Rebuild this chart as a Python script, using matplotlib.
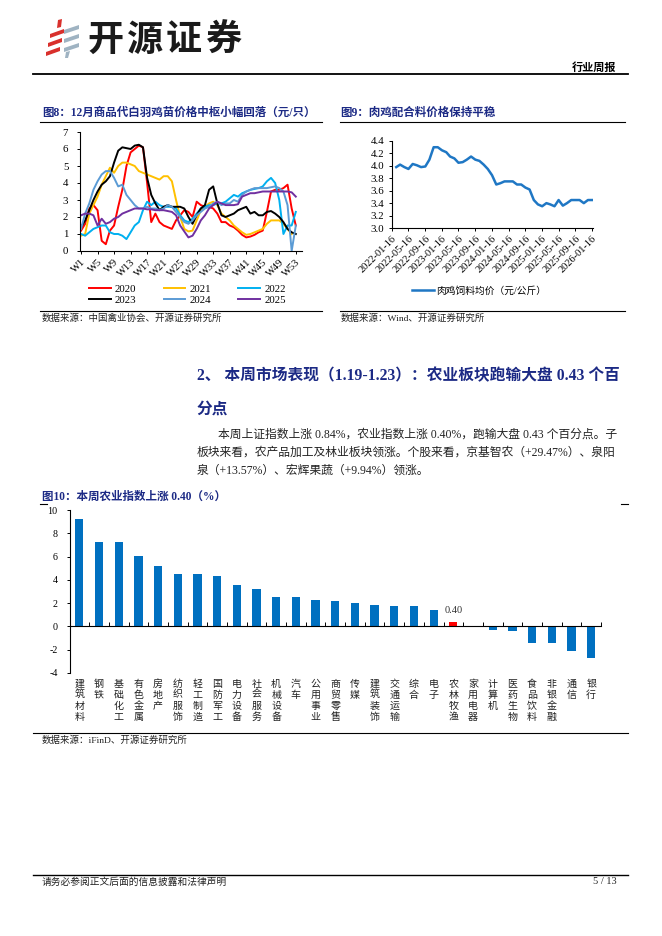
import numpy as np
import pandas as pd
import matplotlib
matplotlib.use('Agg')
import matplotlib.pyplot as plt
from matplotlib.patches import Polygon
from matplotlib.lines import Line2D
import matplotlib.transforms as mtransforms

W, H = 662, 936
plt.rcParams['font.family'] = ['Liberation Serif', 'Noto Sans CJK SC', 'DejaVu Sans']
plt.rcParams['axes.unicode_minus'] = False

# ---------------- data: figure 8 (white-feather chick price, yuan/chick) ----------------
week_tick_labels = ["W1", "W5", "W9", "W13", "W17", "W21", "W25", "W29",
                    "W33", "W37", "W41", "W45", "W49", "W53"]
years = ["2020", "2021", "2022", "2023", "2024", "2025"]
nan = np.nan
chick_2020 = [1.2, 1.6, 2.5, 2.7, 2.4, 0.6, 0.4, 1.2, 1.5, 2.6, 3.6, 5.0, 5.8, 6.0, 6.2, 6.1, 4.0,
              1.7, 2.2, 1.7, 1.5, 1.4, 1.3, 1.8, 2.1, 2.4, 2.3, 2.0, 2.9, 2.7, 2.6, 2.6, 2.5, 2.2,
              1.7, 1.7, 1.5, 1.4, 1.2, 0.95, 0.8, 0.85, 0.95, 1.1, 1.2, 2.3, 3.5, 3.6, 3.6, 3.7,
              3.9, 2.5, 1.5]
chick_2021 = [0.9, 1.0, 2.2, 2.7, 3.2, 3.9, 4.4, 4.9, 4.6, 5.0, 5.2, 5.2, 5.1, 5.0, 4.7, 4.6, 4.5,
              4.4, 4.3, 4.2, 4.4, 4.4, 4.1, 3.0, 2.0, 1.3, 1.15, 1.2, 1.8, 2.4, 2.6, 2.8, 2.9, 2.7,
              2.2, 2.0, 1.8, 1.5, 1.3, 1.1, 0.95, 1.0, 1.1, 1.2, 1.3, 1.6, 1.8, 1.8, 1.8, 1.6,
              1.3, 1.0, nan]
chick_2022 = [1.0, 0.9, 1.1, 1.3, 1.4, 1.5, 1.5, 1.1, 1.0, 1.0, 0.9, 0.7, 1.1, 1.5, 1.7, 2.4, 2.9,
              2.7, 2.9, 2.7, 2.6, 2.6, 2.6, 2.5, 2.1, 1.8, 1.7, 1.9, 2.2, 2.5, 2.6, 2.7, 2.7, 2.8,
              2.8, 2.9, 3.1, 3.3, 3.2, 3.4, 3.5, 3.6, 3.65, 3.7, 3.8, 4.1, 4.3, 4.0, 3.0, 1.0,
              1.5, 1.5, 2.3]
chick_2023 = [1.4, 1.8, 2.4, 3.0, 3.5, 3.9, 4.1, 4.4, 5.2, 5.9, 6.1, 6.05, 6.0, 6.2, 6.25, 6.1, 4.3,
              3.3, 2.8, 2.4, 2.6, 2.7, 2.6, 2.6, 2.6, 2.5, 2.0, 1.6, 2.1, 2.5, 2.7, 3.6, 3.8, 2.8,
              2.1, 2.0, 2.1, 2.2, 2.4, 2.5, 2.6, 2.2, 2.3, 2.1, 2.1, 2.3, 2.35, 2.2, 2.0, 1.7,
              1.3, 1.1, 1.0]
chick_2024 = [1.3, 2.2, 2.8, 3.6, 4.1, 4.5, 4.7, 4.7, 4.3, 3.8, 3.9, 3.3, 3.0, 2.7, 2.5, 2.5, 2.6,
              2.5, 2.5, 2.4, 2.5, 2.7, 2.6, 2.3, 2.0, 1.7, 1.6, 1.8, 2.1, 2.3, 2.5, 2.6, 2.8, 2.9,
              2.7, 2.8, 2.8, 3.0, 2.9, 3.3, 3.5, 3.6, 3.7, 3.7, 3.7, 3.7, 3.75, 3.8, 3.7, 3.5,
              2.7, 0.0, 1.5]
chick_2025 = [2.1, 2.2, 2.2, 2.1, 1.5, 1.9, 1.6, 1.7, 1.9, 2.0, 2.2, 2.3, 2.4, 2.5, 2.5, 2.5, 2.45,
              2.45, 2.4, 2.4, 2.4, 2.35, 2.3, 2.1, 1.5, 1.15, 0.8, 0.9, 1.3, 1.8, 2.1, 2.5, 2.7,
              2.9, 2.8, 2.7, 2.7, 2.7, 2.75, 3.2, 3.3, 3.4, 3.4, 3.45, 3.5, 3.5, 3.5, 3.5, 3.5,
              3.5, 3.5, 3.45, 3.2]
chick_series = [chick_2020, chick_2021, chick_2022, chick_2023, chick_2024, chick_2025]
chick_colors = ["#FF0000", "#FFC000", "#00B0F0", "#000000", "#5B9BD5", "#7030A0"]

# ---------------- data: figure 9 (broiler feed price, yuan/kg) ----------------
feed_start_month = "2022-02-01"
feed_values = [3.98, 4.02, 3.98, 3.95, 4.03, 4.01, 3.98, 3.99, 4.10, 4.30, 4.30, 4.25, 4.22,
               4.15, 4.12, 4.05, 4.06, 4.10, 4.15, 4.10, 4.08, 4.02, 3.95, 3.85, 3.70, 3.72,
               3.75, 3.75, 3.75, 3.70, 3.70, 3.65, 3.62, 3.45, 3.38, 3.35, 3.40, 3.38, 3.35,
               3.45, 3.36, 3.40, 3.45, 3.45, 3.45, 3.40, 3.45, 3.45]
feed_tick_labels = ["2022-01-16", "2022-05-16", "2022-09-16", "2023-01-16", "2023-05-16",
                    "2023-09-16", "2024-01-16", "2024-05-16", "2024-09-16", "2025-01-16",
                    "2025-05-16", "2025-09-16", "2026-01-16"]
feed_label = "肉鸡饲料均价（元/公斤）"

# ---------------- data: figure 10 (sector weekly change, %) ----------------
sectors = ["建筑材料", "钢铁", "基础化工", "有色金属", "房地产", "纺织服饰", "轻工制造", "国防军工",
           "电力设备", "社会服务", "机械设备", "汽车", "公用事业", "商贸零售", "传媒", "建筑装饰",
           "交通运输", "综合", "电子", "农林牧渔", "家用电器", "计算机", "医药生物", "食品饮料",
           "非银金融", "通信", "银行"]
sector_changes = [9.2, 7.25, 7.25, 6.05, 5.2, 4.5, 4.5, 4.35, 3.55, 3.2, 2.5, 2.5, 2.25, 2.15,
                  2.0, 1.85, 1.75, 1.75, 1.4, 0.40, -0.02, -0.3, -0.4, -1.45, -1.45, -2.1, -2.7]
highlight_sector = "农林牧渔"

# ---------------- page setup ----------------
fig = plt.figure(figsize=(W / 100, H / 100), dpi=100)
fig.patch.set_facecolor("white")

def rect(x0, y0, x1, y1):
    return [x0 / W, 1 - y1 / H, (x1 - x0) / W, (y1 - y0) / H]

def fx(x):
    return x / W

def fy(y):
    return 1 - y / H

def hline(x0, x1, y, lw=0.8, color="black"):
    fig.add_artist(Line2D([fx(x0), fx(x1)], [fy(y), fy(y)], lw=lw, color=color,
                          transform=fig.transFigure))

NAVY = "#1C2A85"
TXT = "#222222"
SERIF_CJK = ["Liberation Serif", "Noto Sans CJK SC"]

# ---- logo ----
lax = fig.add_axes(rect(40, 18, 84, 60))
lax.set_xlim(40, 84)
lax.set_ylim(60, 18)
lax.axis("off")
red = "#D9302C"
grey = "#9FB3C2"
for (x, y) in [(46, 52), (48, 43), (50, 34)]:
    lax.add_patch(Polygon([(x, y), (x + 14, y - 5), (x + 14, y - 1), (x, y + 4)], closed=True,
                          color=red, lw=0))
lax.add_patch(Polygon([(58, 20), (62, 19), (61, 27), (57, 28)], closed=True, color=red, lw=0))
for (x, y) in [(64, 30), (64, 39), (64, 48)]:
    lax.add_patch(Polygon([(x, y), (x + 15, y - 5), (x + 15, y - 1), (x, y + 4)], closed=True,
                          color=grey, lw=0))
lax.add_patch(Polygon([(66, 52), (70, 51), (68, 58), (65, 58)], closed=True, color=grey, lw=0))

for i, ch in enumerate("开源证券"):
    fig.text(fx(106 + 39 * i), fy(40), ch, fontsize=26, fontweight="bold",
             family="Noto Sans CJK SC", ha="center", va="center", color="#1a1a1a")

fig.text(fx(616), fy(67), "行业周报", fontsize=8, fontweight="bold", family="Noto Sans CJK SC",
         ha="right", va="center", color="black")
hline(33, 628, 74, lw=1.3)

# ---- figure 8 ----
fig.text(fx(42), fy(113), "图8：12月商品代白羽鸡苗价格中枢小幅回落（元/只）", fontsize=8.3,
         fontweight="bold", family=SERIF_CJK, color=NAVY, ha="left", va="center")
hline(40, 322, 122, lw=0.8)

ax8 = fig.add_axes(rect(80, 132, 302, 251))
weeks = np.arange(1, len(chick_2020) + 1)
handles = []
for lab, vals, col in zip(years, chick_series, chick_colors):
    h, = ax8.plot(weeks, vals, color=col, lw=1.4, label=lab)
    handles.append(h)
ax8.set_xlim(0.75, 54.5)
ax8.set_ylim(0, 7)
ax8.set_yticks(range(0, 8))
tick_pos8 = [int(t[1:]) for t in week_tick_labels]
ax8.set_xticks(tick_pos8)
ax8.set_xticklabels(week_tick_labels, rotation=45, ha="right", va="top", rotation_mode="anchor",
                    fontsize=7.6)
ax8.tick_params(axis="y", labelsize=7.8, length=2.5, width=0.7, pad=6)
ax8.tick_params(axis="x", length=2.5, width=0.7, pad=2)
for s in ["top", "right"]:
    ax8.spines[s].set_visible(False)
for s in ["left", "bottom"]:
    ax8.spines[s].set_linewidth(0.8)
order = [0, 3, 1, 4, 2, 5]
ax8.legend([handles[i] for i in order], [years[i] for i in order], ncol=3, loc="upper left",
           bbox_to_anchor=(fx(89), fy(284)), bbox_transform=fig.transFigure, frameon=False,
           fontsize=7.8, handlelength=2.0, handletextpad=0.4, columnspacing=2.5,
           labelspacing=0.15, borderpad=0, borderaxespad=0)
hline(40, 322, 311, lw=0.8)
fig.text(fx(42), fy(318), "数据来源：中国禽业协会、开源证券研究所", fontsize=6.8,
         family=SERIF_CJK, color=TXT, ha="left", va="center")

# ---- figure 9 ----
fig.text(fx(340), fy(113), "图9：肉鸡配合料价格保持平稳", fontsize=8.3, fontweight="bold",
         family=SERIF_CJK, color=NAVY, ha="left", va="center")
hline(340, 625, 122, lw=0.8)

ax9 = fig.add_axes(rect(392, 141, 593, 228))
feed_dates = pd.date_range(feed_start_month, periods=len(feed_values), freq="MS") + pd.DateOffset(days=15)
ax9.plot(feed_dates, feed_values, color="#1F77C4", lw=1.8, label=feed_label)
feed_ticks = pd.to_datetime(feed_tick_labels)
ax9.set_xlim(feed_ticks[0], feed_ticks[-1] + pd.Timedelta(days=6))
ax9.set_ylim(3.0, 4.4)
ax9.set_yticks(np.arange(3.0, 4.41, 0.2))
ax9.set_yticklabels([f"{v:.1f}" for v in np.arange(3.0, 4.41, 0.2)])
ax9.set_xticks(feed_ticks)
ax9.set_xticklabels(feed_tick_labels, rotation=45, ha="right", va="top", rotation_mode="anchor",
                    fontsize=7.5)
ax9.tick_params(axis="y", labelsize=7.8, length=2.5, width=0.7, pad=3)
ax9.tick_params(axis="x", length=2.5, width=0.7, pad=2)
for s in ["top", "right"]:
    ax9.spines[s].set_visible(False)
for s in ["left", "bottom"]:
    ax9.spines[s].set_linewidth(0.8)
ax9.legend(loc="center left", bbox_to_anchor=(fx(412), fy(291)), bbox_transform=fig.transFigure,
           frameon=False, handlelength=2.3, handletextpad=0.2, borderpad=0,
           borderaxespad=0, prop={"family": SERIF_CJK, "size": 7.0})
hline(340, 625, 311, lw=0.8)
fig.text(fx(341), fy(318), "数据来源：Wind、开源证券研究所", fontsize=6.8, family=SERIF_CJK,
         color=TXT, ha="left", va="center")

# ---- section heading & paragraph ----
fig.text(fx(197), fy(376), "2、 本周市场表现（1.19-1.23）：农业板块跑输大盘 0.43 个百",
         fontsize=11.3, fontweight="bold", family=SERIF_CJK, color=NAVY, ha="left", va="center")
fig.text(fx(197), fy(410), "分点", fontsize=11.3, fontweight="bold", family=SERIF_CJK, color=NAVY,
         ha="left", va="center")
para = [
    (218, "本周上证指数上涨 0.84%，农业指数上涨 0.40%，跑输大盘 0.43 个百分点。子"),
    (197, "板块来看，农产品加工及林业板块领涨。个股来看，京基智农（+29.47%）、泉阳"),
    (197, "泉（+13.57%）、宏辉果蔬（+9.94%）领涨。"),
]
for i, (x0, line) in enumerate(para):
    fig.text(fx(x0), fy(435 + 18 * i), line, fontsize=8.5, family=SERIF_CJK, color=TXT,
             ha="left", va="center")

# ---- figure 10 ----
fig.text(fx(42), fy(497), "图10：本周农业指数上涨 0.40（%）", fontsize=8.3, fontweight="bold",
         family=SERIF_CJK, color=NAVY, ha="left", va="center")
hline(40, 47, 504, lw=0.8)
hline(621, 628, 504, lw=0.8)

ax10 = fig.add_axes(rect(69.5, 510, 601, 673))
xpos = np.arange(len(sectors))
bar_colors = ["#FF0000" if s == highlight_sector else "#0070C0" for s in sectors]
ax10.bar(xpos, sector_changes, width=0.42, color=bar_colors, lw=0)
ax10.set_xlim(-0.5, len(sectors) - 0.5)
ax10.set_ylim(-4, 10)
ax10.set_yticks(range(-4, 11, 2))
ax10.tick_params(axis="y", labelsize=7.2, length=2.5, width=0.7, pad=6)
ax10.set_xticks(np.arange(-0.5, len(sectors), 1.0))
ax10.set_xticklabels([])
ax10.tick_params(axis="x", direction="in", length=3, width=0.7)
ax10.spines["bottom"].set_position(("data", 0))
for s in ["top", "right"]:
    ax10.spines[s].set_visible(False)
for s in ["left", "bottom"]:
    ax10.spines[s].set_linewidth(0.8)
trans10 = mtransforms.blended_transform_factory(ax10.transData, ax10.transAxes)
for i, s in enumerate(sectors):
    ax10.text(i, -0.035, "\n".join(s), transform=trans10, ha="center", va="top", fontsize=7.2,
              family="Noto Sans CJK SC", linespacing=1.12, color=TXT)
hi = sectors.index(highlight_sector)
ax10.annotate(f"{sector_changes[hi]:.2f}", xy=(hi, sector_changes[hi]), xytext=(0, 5),
              textcoords="offset points", ha="center", va="bottom", fontsize=7.5, color="#333333")
hline(33, 628, 733, lw=0.8)
fig.text(fx(42), fy(740), "数据来源：iFinD、开源证券研究所", fontsize=6.8, family=SERIF_CJK,
         color=TXT, ha="left", va="center")

# ---- footer ----
hline(33, 628, 875, lw=1.0)
fig.text(fx(42), fy(882), "请务必参阅正文后面的信息披露和法律声明", fontsize=7, family=SERIF_CJK,
         color=TXT, ha="left", va="center")
fig.text(fx(617), fy(882), "5 / 13", fontsize=7.5, family=SERIF_CJK, color=TXT, ha="right",
         va="center")

fig.savefig("out.png", dpi=100, facecolor="white")
